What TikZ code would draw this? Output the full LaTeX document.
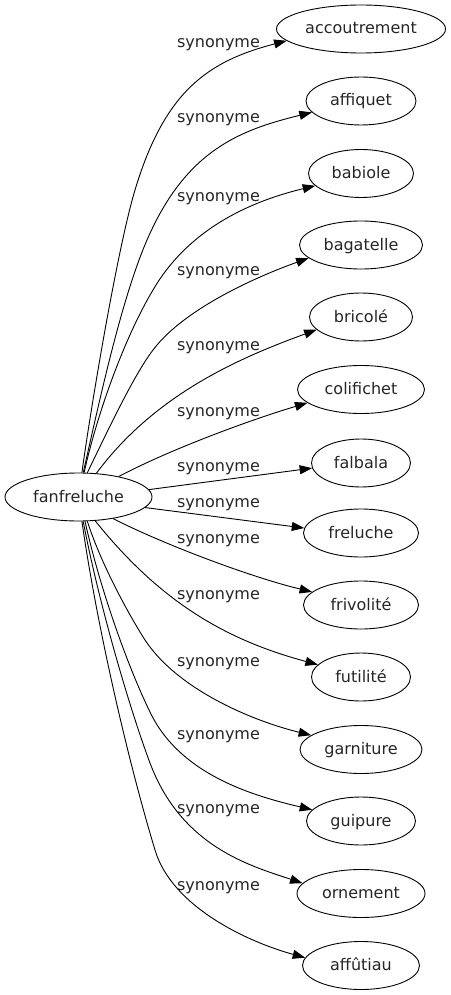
\documentclass[tikz,border=0pt]{standalone}
\usepackage{fontspec}
\setmainfont{DejaVu Sans}
\usetikzlibrary{arrows.meta,shapes.geometric}
\begin{document}
\begin{tikzpicture}[x=1pt,y=-1pt,
  word/.style={ellipse, draw, line width=0.9pt, inner sep=0pt, minimum height=48pt,
    text height=12pt, text depth=2pt, font=\fontsize{16}{18}\selectfont, text=black!85},
  lab/.style={inner sep=0pt, text height=12pt, text depth=2pt,
    font=\fontsize{16}{18}\selectfont, text=black!85},
  edge/.style={draw, line width=0.9pt, -{Triangle[length=12.5pt,width=9pt]}}]
\useasboundingbox (0,0) rectangle (450,995);

\node[word, minimum width=147pt] (fan) at (78.5,497) {fanfreluche};
\node[word, minimum width=169pt] (t1) at (361,29) {accoutrement};
\node[word, minimum width=110pt] (t2) at (361,101) {affiquet};
\node[word, minimum width=105pt] (t3) at (361,173.5) {babiole};
\node[word, minimum width=123pt] (t4) at (361,245) {bagatelle};
\node[word, minimum width=103pt] (t5) at (361,317) {bricolé};
\node[word, minimum width=127pt] (t6) at (361,389.5) {colifichet};
\node[word, minimum width=99pt]  (t7) at (361,463) {falbala};
\node[word, minimum width=115pt] (t8) at (361,533) {freluche};
\node[word, minimum width=115pt] (t9) at (361,605) {frivolité};
\node[word, minimum width=99pt]  (t10) at (361,677) {futilité};
\node[word, minimum width=122pt] (t11) at (361,749.5) {garniture};
\node[word, minimum width=109pt] (t12) at (361,821) {guipure};
\node[word, minimum width=128pt] (t13) at (361,893.5) {ornement};
\node[word, minimum width=117pt] (t14) at (361,965.5) {affûtiau};

\node[lab] (l1) at (218.5,43) {synonyme};
\node[lab] (l2) at (218.5,118) {synonyme};
\node[lab] (l3) at (218.5,196) {synonyme};
\node[lab] (l4) at (218.5,270) {synonyme};
\node[lab] (l5) at (218.5,345) {synonyme};
\node[lab] (l6) at (218.5,411) {synonyme};
\node[lab] (l7) at (218.5,466) {synonyme};
\node[lab] (l8) at (218.5,502) {synonyme};
\node[lab] (l9) at (218.5,538.5) {synonyme};
\node[lab] (l10) at (218.5,594) {synonyme};
\node[lab] (l11) at (218.5,661) {synonyme};
\node[lab] (l12) at (218.5,734) {synonyme};
\node[lab] (l13) at (218.5,808) {synonyme};
\node[lab] (l14) at (218.5,885) {synonyme};

\draw[edge] (fan.82) .. controls (90,413) and (117,250) .. (135,190)
  .. controls (165,90) and (209,61) .. (t1.189);
\draw[edge] (fan.79) .. controls (99,403) and (121,300) .. (147,240)
  .. controls (186,150) and (240,130) .. (t2.193);
\draw[edge] (fan.77) .. controls (98,410) and (126,335) .. (153,290)
  .. controls (188,230) and (248,202) .. (t3.195);
\draw[edge] (fan.70) .. controls (109,428) and (134,375) .. (153,350)
  .. controls (183,310) and (253,278) .. (t4.194);
\draw[edge] (fan.53) .. controls (156,393) and (242,357) .. (t5.196);
\draw[edge] (fan.27) .. controls (171,449) and (250,420) .. (t6.194);
\draw[edge] (fan.6) -- (t7.186);
\draw[edge] (fan.-9) -- (t8.175);
\draw[edge] (fan.-32) .. controls (167,546) and (254,578) .. (t9.165);
\draw[edge] (fan.-55) .. controls (158,599) and (222,639) .. (t10.164);
\draw[edge] (fan.-70) .. controls (101,564) and (129,615) .. (145,640)
  .. controls (178,690) and (253,721) .. (t11.164);
\draw[edge] (fan.-75) .. controls (100,589) and (128,667) .. (150,712)
  .. controls (180,775) and (254,796) .. (t12.167);
\draw[edge] (fan.-79) .. controls (98,600) and (129,707) .. (150,763)
  .. controls (181.5,847) and (251,866) .. (t13.170);
\draw[edge] (fan.-82) .. controls (96,620) and (126,754) .. (155,850)
  .. controls (172,907) and (248,942) .. (t14.172);
\end{tikzpicture}
\end{document}
